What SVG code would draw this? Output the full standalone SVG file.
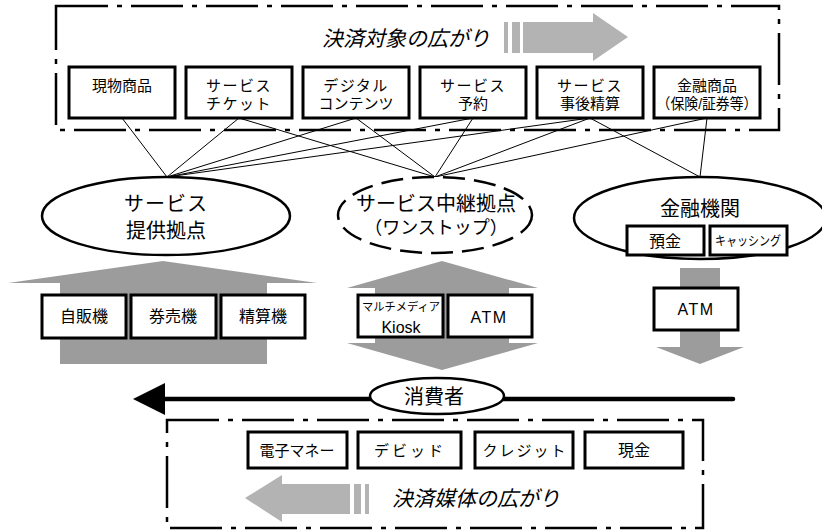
<svg xmlns="http://www.w3.org/2000/svg" width="822" height="532" viewBox="0 0 822 532">
<defs>
<style>
.t{font-family:"Liberation Sans","Noto Sans CJK JP",sans-serif;fill:#000;text-anchor:middle;dominant-baseline:central}
.ti{font-family:"Noto Sans CJK JP",sans-serif;font-style:italic;font-size:21px;fill:#000;text-anchor:middle;dominant-baseline:central}
.box{fill:#fff;stroke:#000;stroke-width:3}
.frame{fill:none;stroke:#000;stroke-width:2.5;stroke-dasharray:52 9 5 9}
.oval{fill:#fff;stroke:#000;stroke-width:2.5}
.big{fill:#9c9c9c}
.light{fill:#b3b3b3}
.con{stroke:#000;stroke-width:1;fill:none}
</style>
</defs>
<rect width="822" height="532" fill="#fff"/>

<!-- frames -->
<g id="frame-top">
<rect class="frame" x="56" y="6" width="723" height="124"/>
<text class="ti" x="406" y="37">決済対象の広がり</text>
<rect class="light" x="504" y="22" width="4" height="31"/>
<rect class="light" x="512" y="22" width="8" height="31"/>
<polygon class="light" points="523,22 593,22 593,13 628,37 593,61 593,53 523,53"/>
</g>
<g id="frame-bottom">
<rect class="frame" x="167" y="420" width="536" height="108"/>
<text class="ti" x="476" y="497">決済媒体の広がり</text>
<rect class="light" x="365" y="484" width="4" height="30"/>
<rect class="light" x="354" y="484" width="7" height="30"/>
<polygon class="light" points="350,484 282,484 282,475 245,498 282,522 282,514 350,514"/>
</g>

<!-- connectors -->
<g id="connectors">
<line class="con" x1="122" y1="118" x2="167" y2="177"/>
<line class="con" x1="239" y1="118" x2="167" y2="177"/>
<line class="con" x1="356" y1="118" x2="167" y2="177"/>
<line class="con" x1="473" y1="118" x2="167" y2="177"/>
<line class="con" x1="590" y1="118" x2="167" y2="177"/>
<line class="con" x1="239" y1="118" x2="435" y2="177"/>
<line class="con" x1="356" y1="118" x2="435" y2="177"/>
<line class="con" x1="473" y1="118" x2="435" y2="177"/>
<line class="con" x1="590" y1="118" x2="435" y2="177"/>
<line class="con" x1="707" y1="118" x2="435" y2="177"/>
<line class="con" x1="590" y1="118" x2="700" y2="177"/>
<line class="con" x1="707" y1="118" x2="700" y2="177"/>
</g>

<!-- top boxes -->
<g id="item-genbutsu">
<rect class="box" x="69" y="67" width="106" height="51"/>
<text class="t" x="122" y="85" font-size="15">現物商品</text>
</g>
<g id="item-ticket">
<rect class="box" x="186" y="67" width="106" height="51"/>
<text class="t" x="239" y="85" font-size="15" letter-spacing="1.5">サービス</text>
<text class="t" x="239" y="103" font-size="15" letter-spacing="1.5">チケット</text>
</g>
<g id="item-digital">
<rect class="box" x="303" y="67" width="106" height="51"/>
<text class="t" x="356" y="85" font-size="15" letter-spacing="1.5">デジタル</text>
<text class="t" x="356" y="103" font-size="15">コンテンツ</text>
</g>
<g id="item-yoyaku">
<rect class="box" x="420" y="67" width="106" height="51"/>
<text class="t" x="473" y="85" font-size="15" letter-spacing="1.5">サービス</text>
<text class="t" x="473" y="103" font-size="15">予約</text>
</g>
<g id="item-jigo">
<rect class="box" x="537" y="67" width="106" height="51"/>
<text class="t" x="590" y="85" font-size="15" letter-spacing="1.5">サービス</text>
<text class="t" x="590" y="103" font-size="15">事後精算</text>
</g>
<g id="item-kinyu">
<rect class="box" x="654" y="67" width="106" height="51"/>
<text class="t" x="707" y="85" font-size="15">金融商品</text>
<text class="t" x="707" y="103" font-size="15" textLength="101" lengthAdjust="spacingAndGlyphs">（保険/証券等）</text>
</g>

<!-- arrows -->
<g id="arrow-left">
<polygon class="big" points="60,364 60,283 8,283 163,261 317,283 267,283 267,364"/>
</g>
<g id="arrow-middle">
<polygon class="big" points="375,288 347,288 442,261 538,288 509,288 509,343 538,343 442,370 347,343 375,343"/>
</g>
<g id="arrow-right">
<polygon class="big" points="680,268 720,268 720,347 744,347 700,364 656,347 680,347"/>
</g>

<!-- ovals -->
<g id="node-teikyo">
<ellipse class="oval" cx="166" cy="216" rx="124" ry="39"/>
<text class="t" x="166" y="204" font-size="20" letter-spacing="1">サービス</text>
<text class="t" x="166" y="231" font-size="20">提供拠点</text>
</g>
<g id="node-chukei">
<ellipse class="oval" cx="435" cy="215" rx="97" ry="38" stroke-width="3" stroke-dasharray="22 9"/>
<text class="t" x="436" y="204" font-size="20">サービス中継拠点</text>
<text class="t" x="436" y="228" font-size="18">（ワンストップ）</text>
</g>
<g id="node-kinyukikan">
<ellipse class="oval" cx="700" cy="218" rx="126" ry="41"/>
<text class="t" x="700" y="209" font-size="20">金融機関</text>
</g>
<g id="box-yokin">
<rect class="box" x="627" y="226" width="77" height="29"/>
<text class="t" x="665" y="241" font-size="16">預金</text>
</g>
<g id="box-cashing">
<rect class="box" x="710" y="226" width="77" height="29"/>
<text class="t" x="748" y="240" font-size="13" textLength="66" lengthAdjust="spacingAndGlyphs">キャッシング</text>
</g>

<!-- terminals -->
<g id="term-jihanki">
<rect class="box" x="42" y="295" width="84" height="43"/>
<text class="t" x="84" y="316" font-size="16">自販機</text>
</g>
<g id="term-kenbaiki">
<rect class="box" x="131" y="295" width="85" height="43"/>
<text class="t" x="173" y="316" font-size="16">券売機</text>
</g>
<g id="term-seisanki">
<rect class="box" x="221" y="295" width="84" height="43"/>
<text class="t" x="263" y="316" font-size="16">精算機</text>
</g>
<g id="term-kiosk">
<rect class="box" x="358" y="295" width="85" height="42"/>
<text class="t" x="401" y="307" font-size="11.5" textLength="78" lengthAdjust="spacingAndGlyphs">マルチメディア</text>
<text class="t" x="401" y="327" font-size="16">Kiosk</text>
</g>
<g id="term-atm-mid">
<rect class="box" x="448" y="295" width="84" height="42"/>
<text class="t" x="489" y="317" font-size="16" letter-spacing="1.5">ATM</text>
</g>
<g id="term-atm-right">
<rect class="box" x="654" y="288" width="84" height="42"/>
<text class="t" x="696" y="309" font-size="16" letter-spacing="1.5">ATM</text>
</g>

<!-- consumer -->
<g id="consumer-line">
<line x1="160" y1="399" x2="733" y2="399" stroke="#000" stroke-width="4.5" stroke-linecap="round"/>
<polygon points="133,399 165,383 165,415" fill="#000"/>
</g>
<g id="node-consumer">
<ellipse class="oval" cx="437" cy="396" rx="67" ry="18"/>
<text class="t" x="434" y="397" font-size="20">消費者</text>
</g>

<!-- payment media -->
<g id="media-emoney">
<rect class="box" x="248" y="432" width="99" height="36"/>
<text class="t" x="297" y="450" font-size="15">電子マネー</text>
</g>
<g id="media-debit">
<rect class="box" x="358" y="432" width="103" height="36"/>
<text class="t" x="410" y="450" font-size="15" letter-spacing="3">デビッド</text>
</g>
<g id="media-credit">
<rect class="box" x="475" y="432" width="98" height="36"/>
<text class="t" x="525" y="450" font-size="15" letter-spacing="2">クレジット</text>
</g>
<g id="media-cash">
<rect class="box" x="585" y="432" width="98" height="36"/>
<text class="t" x="634" y="450" font-size="16">現金</text>
</g>
</svg>
